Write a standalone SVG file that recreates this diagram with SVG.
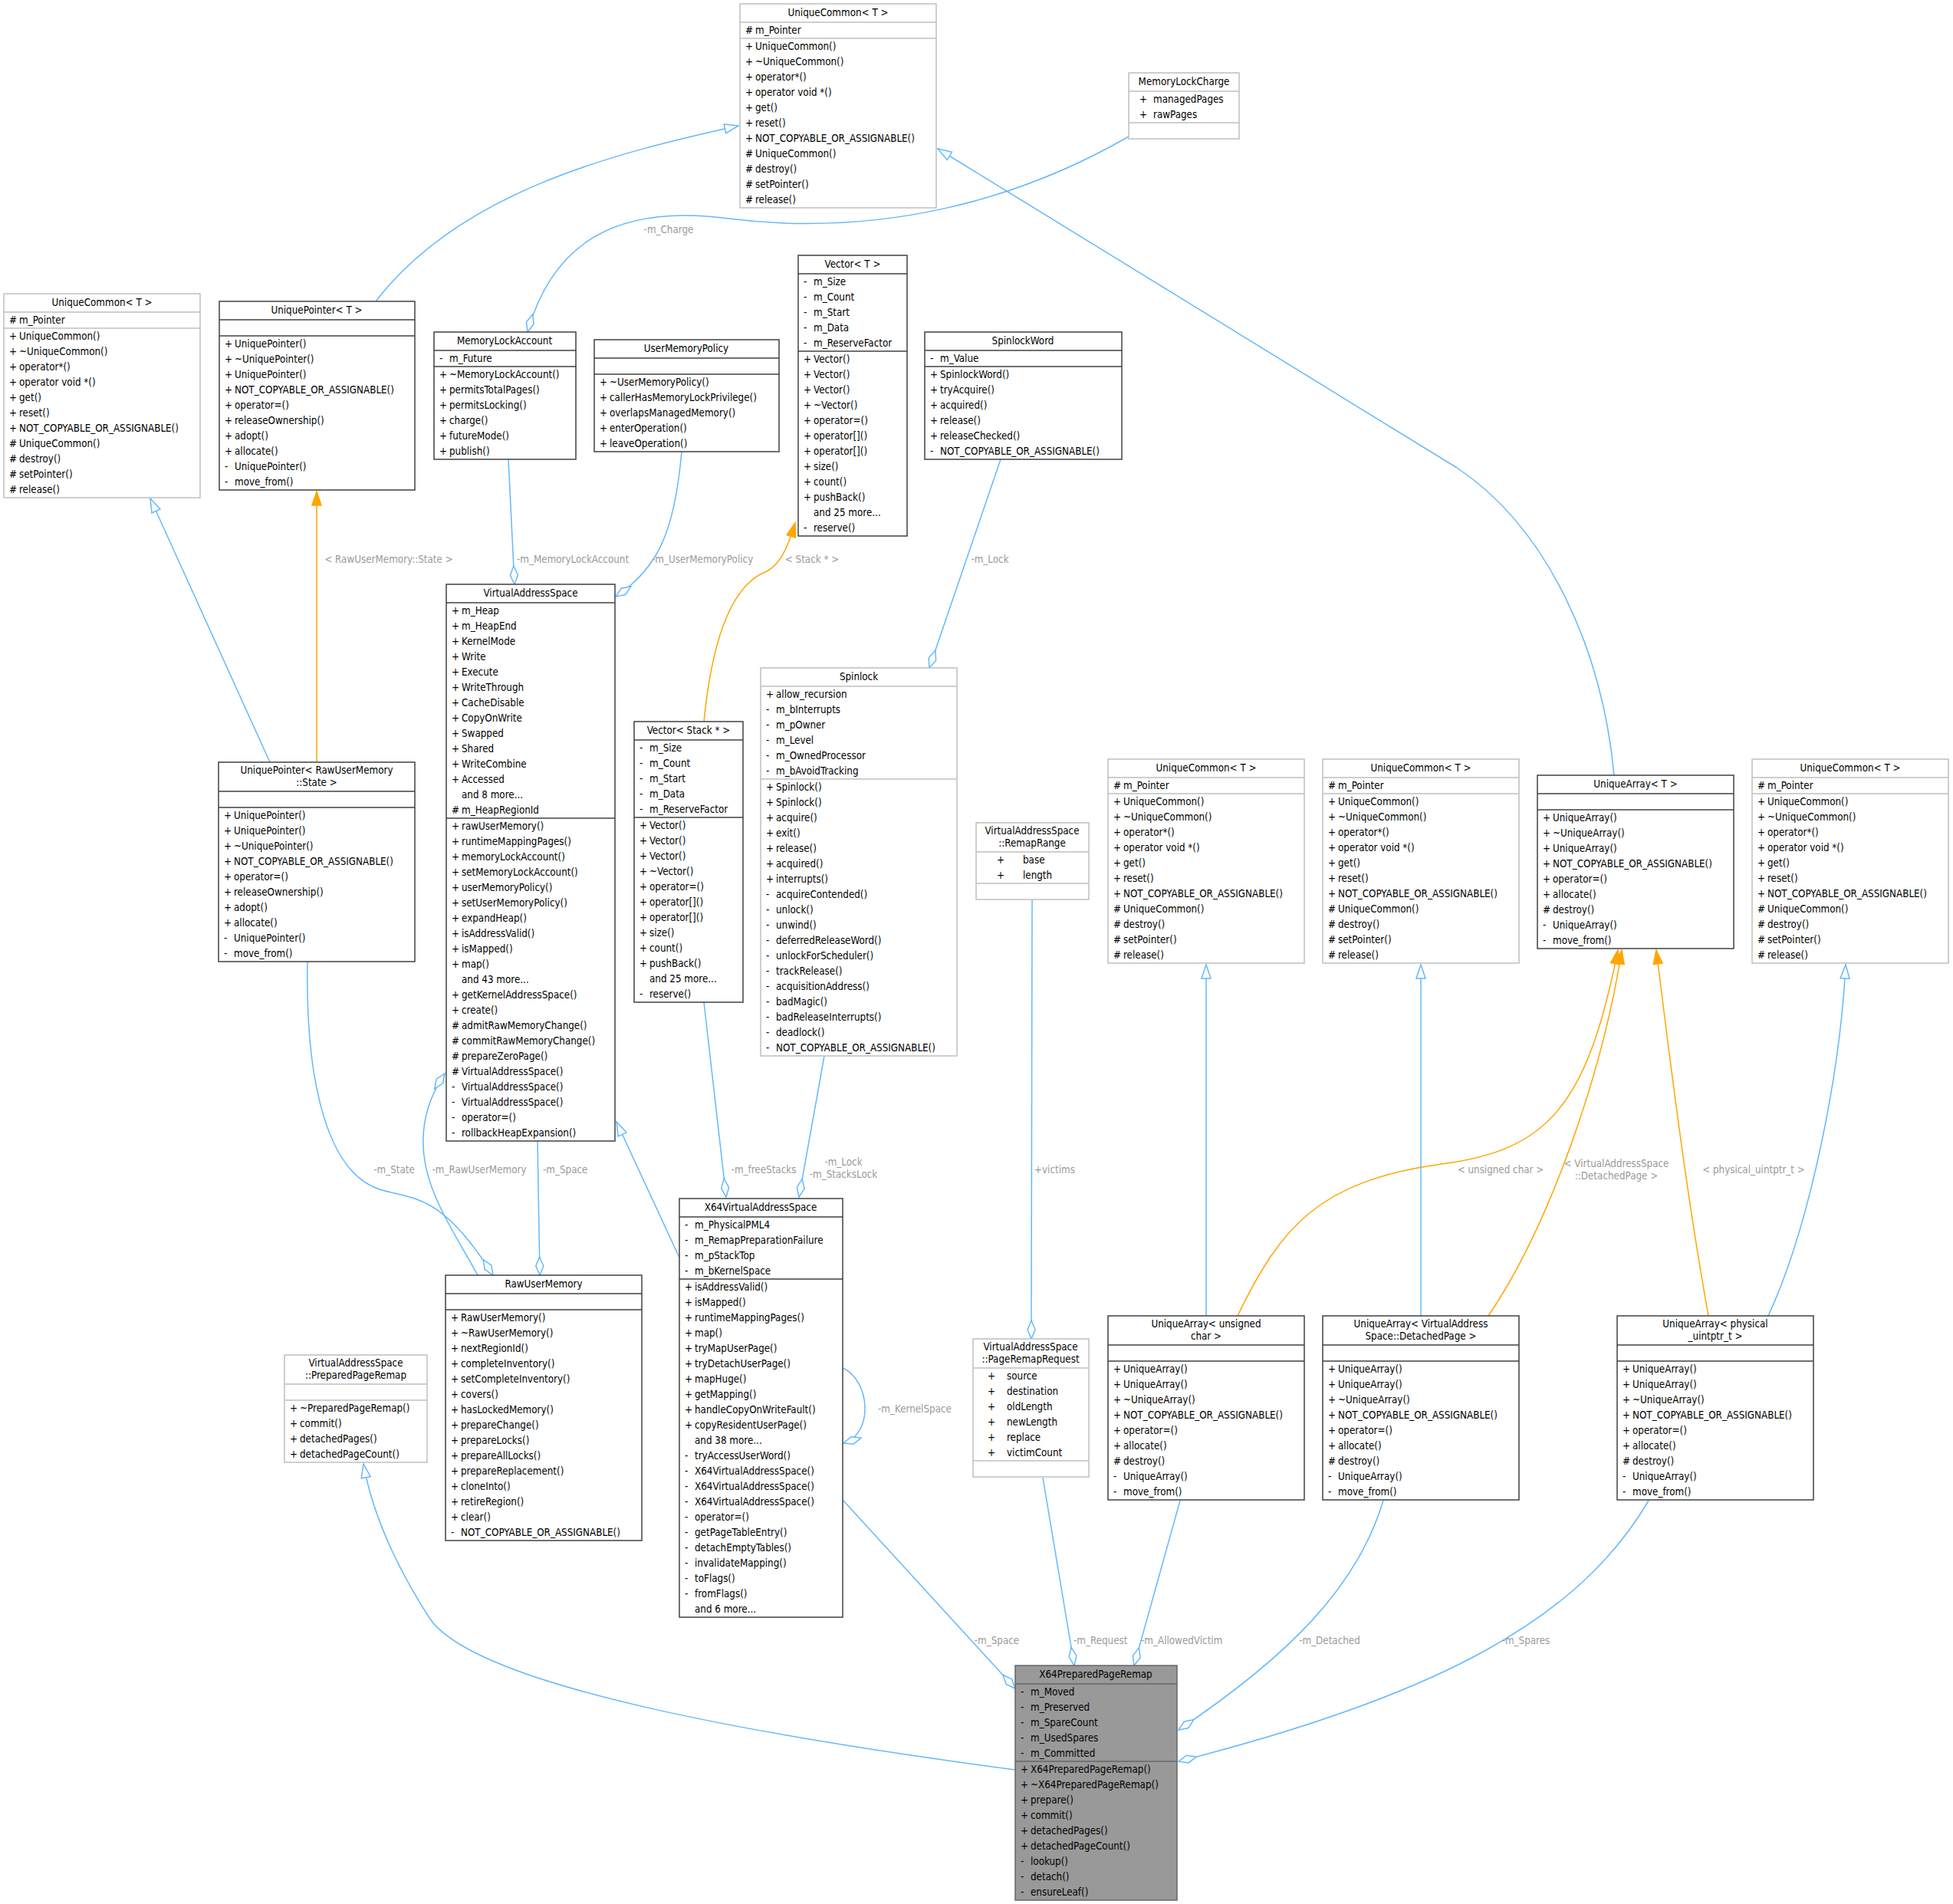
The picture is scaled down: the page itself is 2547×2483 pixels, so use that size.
<svg xmlns="http://www.w3.org/2000/svg" width="2547" height="2483" viewBox="0 0 2547 2483">
<style>
text{font-family:"DejaVu Sans Condensed","DejaVu Sans","Liberation Sans",sans-serif;font-size:13.3px;fill:#000}
.h{text-anchor:middle}
.lb{fill:#9a9a9a}
.m{text-anchor:middle}
.gy{fill:#fff;stroke:#bfbfbf;stroke-width:1.5}
.bk{fill:#fff;stroke:#404040;stroke-width:1.5}
.gs{stroke:#bfbfbf;stroke-width:1.5}
.bs{stroke:#404040;stroke-width:1.5}
.e{fill:none;stroke:#63b8ff;stroke-width:1.5}
.o{fill:none;stroke:#ffa500;stroke-width:1.5}
</style>
<defs>
<marker id="inh" markerUnits="userSpaceOnUse" markerWidth="22" markerHeight="16" refX="19" refY="8" orient="auto"><path d="M1,2 L19,8 L1,14 z" fill="#fff" stroke="#63b8ff" stroke-width="1.5"/></marker>
<marker id="tpl" markerUnits="userSpaceOnUse" markerWidth="22" markerHeight="16" refX="19" refY="8" orient="auto"><path d="M1,2 L19,8 L1,14 z" fill="#ffa500" stroke="#ffa500" stroke-width="1.5"/></marker>
<marker id="agg" markerUnits="userSpaceOnUse" markerWidth="28" markerHeight="14" refX="25" refY="7" orient="auto"><path d="M1,7 L13,2 L25,7 L13,12 z" fill="#fff" stroke="#63b8ff" stroke-width="1.5"/></marker>
</defs>

<g id="edges">
<path class="e" d="M490,393 C600,250 800,200 963,164" marker-end="url(#inh)"/>
<path class="e" d="M1472,178 C1330,260 1150,310 950,285 C800,265 720,320 688,433" marker-end="url(#agg)"/>
<text class="lb m" x="872" y="304">-m_Charge</text>
<path class="e" d="M2105,1011 C2090,850 2020,690 1900,610 L1223,194" marker-end="url(#inh)"/>
<path class="e" d="M352,994 L196,650" marker-end="url(#inh)"/>
<path class="o" d="M413,994 L413,641" marker-end="url(#tpl)"/>
<text class="lb m" x="507" y="734">&lt; RawUserMemory::State &gt;</text>
<path class="e" d="M663,599 L671,762" marker-end="url(#agg)"/>
<text class="lb" x="674" y="734">-m_MemoryLockAccount</text>
<path class="e" d="M889,589 C880,690 860,740 803,778" marker-end="url(#agg)"/>
<text class="lb" x="850" y="734">-m_UserMemoryPolicy</text>
<path class="o" d="M918,941 C930,820 960,760 1000,745 C1020,735 1030,705 1037,682" marker-end="url(#tpl)"/>
<text class="lb m" x="1059" y="734">&lt; Stack * &gt;</text>
<path class="e" d="M1305,599 L1212,871" marker-end="url(#agg)"/>
<text class="lb m" x="1291" y="734">-m_Lock</text>
<path class="e" d="M1573,1716 L1573,1258" marker-end="url(#inh)"/>
<path class="e" d="M1853,1716 L1853,1258" marker-end="url(#inh)"/>
<path class="e" d="M2306,1716 C2360,1600 2400,1400 2407,1258" marker-end="url(#inh)"/>
<path class="o" d="M1614,1716 C1670,1600 1720,1540 1880,1518 C2020,1500 2070,1440 2110,1239" marker-end="url(#tpl)"/>
<text class="lb m" x="1957" y="1530">&lt; unsigned char &gt;</text>
<path class="o" d="M1941,1716 C2020,1600 2090,1400 2115,1239" marker-end="url(#tpl)"/>
<text class="lb m" x="2108" y="1522">&lt; VirtualAddressSpace</text>
<text class="lb m" x="2108" y="1538">::DetachedPage &gt;</text>
<path class="o" d="M2228,1716 C2200,1560 2180,1400 2160,1239" marker-end="url(#tpl)"/>
<text class="lb m" x="2287" y="1530">&lt; physical_uintptr_t &gt;</text>
<path class="e" d="M401,1254 C398,1420 430,1530 495,1551 C540,1565 575,1555 643,1663" marker-end="url(#agg)"/>
<text class="lb m" x="514" y="1530">-m_State</text>
<path class="e" d="M623,1663 C600,1620 565,1570 555,1520 C545,1470 560,1430 580,1400" marker-end="url(#agg)"/>
<text class="lb m" x="625" y="1530">-m_RawUserMemory</text>
<path class="e" d="M701,1488 L704,1663" marker-end="url(#agg)"/>
<text class="lb" x="708" y="1530">-m_Space</text>
<path class="e" d="M886,1640 L804,1463" marker-end="url(#inh)"/>
<path class="e" d="M918,1307 L947,1561" marker-end="url(#agg)"/>
<text class="lb m" x="996" y="1530">-m_freeStacks</text>
<path class="e" d="M1075,1377 L1042,1561" marker-end="url(#agg)"/>
<text class="lb m" x="1100" y="1520">-m_Lock</text>
<text class="lb m" x="1100" y="1536">-m_StacksLock</text>
<path class="e" d="M1099,1784 C1135,1800 1140,1870 1100,1882" marker-end="url(#agg)"/>
<text class="lb" x="1145" y="1842">-m_KernelSpace</text>
<path class="e" d="M1346,1174 L1345,1746" marker-end="url(#agg)"/>
<text class="lb" x="1349" y="1530">+victims</text>
<path class="e" d="M1099,1956 L1324,2202" marker-end="url(#agg)"/>
<text class="lb m" x="1300" y="2144">-m_Space</text>
<path class="e" d="M1360,1927 L1401,2172" marker-end="url(#agg)"/>
<text class="lb" x="1400" y="2144">-m_Request</text>
<path class="e" d="M1539,1957 L1479,2172" marker-end="url(#agg)"/>
<text class="lb" x="1488" y="2144">-m_AllowedVictim</text>
<path class="e" d="M1804,1957 C1770,2070 1680,2160 1537,2256" marker-end="url(#agg)"/>
<text class="lb m" x="1734" y="2144">-m_Detached</text>
<path class="e" d="M2150,1957 C2060,2110 1880,2210 1537,2297" marker-end="url(#agg)"/>
<text class="lb m" x="1990" y="2144">-m_Spares</text>
<path class="e" d="M1324,2308 C1000,2265 620,2200 560,2110 C515,2040 485,1970 474,1909" marker-end="url(#inh)"/>
</g>

<g id="UniqueCommon_top">
<rect class="gy" x="965" y="5" width="256" height="266"/>
<line class="gs" x1="965" y1="29" x2="1221" y2="29"/><line class="gs" x1="965" y1="50" x2="1221" y2="50"/>
<text class="h" x="1093" y="21">UniqueCommon&lt; T &gt;</text>
<text x="972" y="44">#</text><text x="985" y="44">m_Pointer</text>
<text><tspan x="972" y="65">+</tspan><tspan x="972" dy="20">+</tspan><tspan x="972" dy="20">+</tspan><tspan x="972" dy="20">+</tspan><tspan x="972" dy="20">+</tspan><tspan x="972" dy="20">+</tspan><tspan x="972" dy="20">+</tspan><tspan x="972" dy="20">#</tspan><tspan x="972" dy="20">#</tspan><tspan x="972" dy="20">#</tspan><tspan x="972" dy="20">#</tspan></text>
<text><tspan x="985" y="65">UniqueCommon()</tspan><tspan x="985" dy="20">~UniqueCommon()</tspan><tspan x="985" dy="20">operator*()</tspan><tspan x="985" dy="20">operator void *()</tspan><tspan x="985" dy="20">get()</tspan><tspan x="985" dy="20">reset()</tspan><tspan x="985" dy="20">NOT_COPYABLE_OR_ASSIGNABLE()</tspan><tspan x="985" dy="20">UniqueCommon()</tspan><tspan x="985" dy="20">destroy()</tspan><tspan x="985" dy="20">setPointer()</tspan><tspan x="985" dy="20">release()</tspan></text>
</g>

<g id="MemoryLockCharge">
<rect class="gy" x="1472" y="95" width="144" height="86"/>
<line class="gs" x1="1472" y1="119" x2="1616" y2="119"/><line class="gs" x1="1472" y1="160" x2="1616" y2="160"/>
<text class="h" x="1544" y="111">MemoryLockCharge</text>
<text><tspan x="1486" y="134">+</tspan><tspan x="1486" dy="20">+</tspan></text>
<text><tspan x="1504" y="134">managedPages</tspan><tspan x="1504" dy="20">rawPages</tspan></text>
</g>

<g id="UniqueCommon_left">
<rect class="gy" x="5" y="383" width="256" height="266"/>
<line class="gs" x1="5" y1="407" x2="261" y2="407"/><line class="gs" x1="5" y1="428" x2="261" y2="428"/>
<text class="h" x="133" y="399">UniqueCommon&lt; T &gt;</text>
<text x="12" y="422">#</text><text x="25" y="422">m_Pointer</text>
<text><tspan x="12" y="443">+</tspan><tspan x="12" dy="20">+</tspan><tspan x="12" dy="20">+</tspan><tspan x="12" dy="20">+</tspan><tspan x="12" dy="20">+</tspan><tspan x="12" dy="20">+</tspan><tspan x="12" dy="20">+</tspan><tspan x="12" dy="20">#</tspan><tspan x="12" dy="20">#</tspan><tspan x="12" dy="20">#</tspan><tspan x="12" dy="20">#</tspan></text>
<text><tspan x="25" y="443">UniqueCommon()</tspan><tspan x="25" dy="20">~UniqueCommon()</tspan><tspan x="25" dy="20">operator*()</tspan><tspan x="25" dy="20">operator void *()</tspan><tspan x="25" dy="20">get()</tspan><tspan x="25" dy="20">reset()</tspan><tspan x="25" dy="20">NOT_COPYABLE_OR_ASSIGNABLE()</tspan><tspan x="25" dy="20">UniqueCommon()</tspan><tspan x="25" dy="20">destroy()</tspan><tspan x="25" dy="20">setPointer()</tspan><tspan x="25" dy="20">release()</tspan></text>
</g>

<g id="UniquePointer_T">
<rect class="bk" x="286" y="393" width="255" height="246"/>
<line class="bs" x1="286" y1="417" x2="541" y2="417"/><line class="bs" x1="286" y1="438" x2="541" y2="438"/>
<text class="h" x="413" y="409">UniquePointer&lt; T &gt;</text>
<text><tspan x="293" y="453">+</tspan><tspan x="293" dy="20">+</tspan><tspan x="293" dy="20">+</tspan><tspan x="293" dy="20">+</tspan><tspan x="293" dy="20">+</tspan><tspan x="293" dy="20">+</tspan><tspan x="293" dy="20">+</tspan><tspan x="293" dy="20">+</tspan><tspan x="293" dy="20">-</tspan><tspan x="293" dy="20">-</tspan></text>
<text><tspan x="306" y="453">UniquePointer()</tspan><tspan x="306" dy="20">~UniquePointer()</tspan><tspan x="306" dy="20">UniquePointer()</tspan><tspan x="306" dy="20">NOT_COPYABLE_OR_ASSIGNABLE()</tspan><tspan x="306" dy="20">operator=()</tspan><tspan x="306" dy="20">releaseOwnership()</tspan><tspan x="306" dy="20">adopt()</tspan><tspan x="306" dy="20">allocate()</tspan><tspan x="306" dy="20">UniquePointer()</tspan><tspan x="306" dy="20">move_from()</tspan></text>
</g>

<g id="MemoryLockAccount">
<rect class="bk" x="566" y="433" width="185" height="166"/>
<line class="bs" x1="566" y1="457" x2="751" y2="457"/><line class="bs" x1="566" y1="478" x2="751" y2="478"/>
<text class="h" x="658" y="449">MemoryLockAccount</text>
<text x="573" y="472">-</text><text x="586" y="472">m_Future</text>
<text><tspan x="573" y="493">+</tspan><tspan x="573" dy="20">+</tspan><tspan x="573" dy="20">+</tspan><tspan x="573" dy="20">+</tspan><tspan x="573" dy="20">+</tspan><tspan x="573" dy="20">+</tspan></text>
<text><tspan x="586" y="493">~MemoryLockAccount()</tspan><tspan x="586" dy="20">permitsTotalPages()</tspan><tspan x="586" dy="20">permitsLocking()</tspan><tspan x="586" dy="20">charge()</tspan><tspan x="586" dy="20">futureMode()</tspan><tspan x="586" dy="20">publish()</tspan></text>
</g>

<g id="UserMemoryPolicy">
<rect class="bk" x="775" y="443" width="241" height="146"/>
<line class="bs" x1="775" y1="467" x2="1016" y2="467"/><line class="bs" x1="775" y1="488" x2="1016" y2="488"/>
<text class="h" x="895" y="459">UserMemoryPolicy</text>
<text><tspan x="782" y="503">+</tspan><tspan x="782" dy="20">+</tspan><tspan x="782" dy="20">+</tspan><tspan x="782" dy="20">+</tspan><tspan x="782" dy="20">+</tspan></text>
<text><tspan x="795" y="503">~UserMemoryPolicy()</tspan><tspan x="795" dy="20">callerHasMemoryLockPrivilege()</tspan><tspan x="795" dy="20">overlapsManagedMemory()</tspan><tspan x="795" dy="20">enterOperation()</tspan><tspan x="795" dy="20">leaveOperation()</tspan></text>
</g>

<g id="Vector_T">
<rect class="bk" x="1041" y="333" width="142" height="366"/>
<line class="bs" x1="1041" y1="357" x2="1183" y2="357"/><line class="bs" x1="1041" y1="458" x2="1183" y2="458"/>
<text class="h" x="1112" y="349">Vector&lt; T &gt;</text>
<text><tspan x="1048" y="372">-</tspan><tspan x="1048" dy="20">-</tspan><tspan x="1048" dy="20">-</tspan><tspan x="1048" dy="20">-</tspan><tspan x="1048" dy="20">-</tspan></text>
<text><tspan x="1061" y="372">m_Size</tspan><tspan x="1061" dy="20">m_Count</tspan><tspan x="1061" dy="20">m_Start</tspan><tspan x="1061" dy="20">m_Data</tspan><tspan x="1061" dy="20">m_ReserveFactor</tspan></text>
<text><tspan x="1048" y="473">+</tspan><tspan x="1048" dy="20">+</tspan><tspan x="1048" dy="20">+</tspan><tspan x="1048" dy="20">+</tspan><tspan x="1048" dy="20">+</tspan><tspan x="1048" dy="20">+</tspan><tspan x="1048" dy="20">+</tspan><tspan x="1048" dy="20">+</tspan><tspan x="1048" dy="20">+</tspan><tspan x="1048" dy="20">+</tspan><tspan x="1048" dy="40">-</tspan></text>
<text><tspan x="1061" y="473">Vector()</tspan><tspan x="1061" dy="20">Vector()</tspan><tspan x="1061" dy="20">Vector()</tspan><tspan x="1061" dy="20">~Vector()</tspan><tspan x="1061" dy="20">operator=()</tspan><tspan x="1061" dy="20">operator[]()</tspan><tspan x="1061" dy="20">operator[]()</tspan><tspan x="1061" dy="20">size()</tspan><tspan x="1061" dy="20">count()</tspan><tspan x="1061" dy="20">pushBack()</tspan><tspan x="1061" dy="20">and 25 more...</tspan><tspan x="1061" dy="20">reserve()</tspan></text>
</g>

<g id="SpinlockWord">
<rect class="bk" x="1206" y="433" width="257" height="166"/>
<line class="bs" x1="1206" y1="457" x2="1463" y2="457"/><line class="bs" x1="1206" y1="478" x2="1463" y2="478"/>
<text class="h" x="1334" y="449">SpinlockWord</text>
<text x="1213" y="472">-</text><text x="1226" y="472">m_Value</text>
<text><tspan x="1213" y="493">+</tspan><tspan x="1213" dy="20">+</tspan><tspan x="1213" dy="20">+</tspan><tspan x="1213" dy="20">+</tspan><tspan x="1213" dy="20">+</tspan><tspan x="1213" dy="20">-</tspan></text>
<text><tspan x="1226" y="493">SpinlockWord()</tspan><tspan x="1226" dy="20">tryAcquire()</tspan><tspan x="1226" dy="20">acquired()</tspan><tspan x="1226" dy="20">release()</tspan><tspan x="1226" dy="20">releaseChecked()</tspan><tspan x="1226" dy="20">NOT_COPYABLE_OR_ASSIGNABLE()</tspan></text>
</g>

<g id="UniquePointer_RawUserMemory_State">
<rect class="bk" x="285" y="994" width="256" height="260"/>
<line class="bs" x1="285" y1="1032" x2="541" y2="1032"/><line class="bs" x1="285" y1="1053" x2="541" y2="1053"/>
<text class="h" x="413" y="1009">UniquePointer&lt; RawUserMemory</text>
<text class="h" x="413" y="1025">::State &gt;</text>
<text><tspan x="292" y="1068">+</tspan><tspan x="292" dy="20">+</tspan><tspan x="292" dy="20">+</tspan><tspan x="292" dy="20">+</tspan><tspan x="292" dy="20">+</tspan><tspan x="292" dy="20">+</tspan><tspan x="292" dy="20">+</tspan><tspan x="292" dy="20">+</tspan><tspan x="292" dy="20">-</tspan><tspan x="292" dy="20">-</tspan></text>
<text><tspan x="305" y="1068">UniquePointer()</tspan><tspan x="305" dy="20">UniquePointer()</tspan><tspan x="305" dy="20">~UniquePointer()</tspan><tspan x="305" dy="20">NOT_COPYABLE_OR_ASSIGNABLE()</tspan><tspan x="305" dy="20">operator=()</tspan><tspan x="305" dy="20">releaseOwnership()</tspan><tspan x="305" dy="20">adopt()</tspan><tspan x="305" dy="20">allocate()</tspan><tspan x="305" dy="20">UniquePointer()</tspan><tspan x="305" dy="20">move_from()</tspan></text>
</g>

<g id="VirtualAddressSpace">
<rect class="bk" x="582" y="762" width="220" height="726"/>
<line class="bs" x1="582" y1="786" x2="802" y2="786"/><line class="bs" x1="582" y1="1067" x2="802" y2="1067"/>
<text class="h" x="692" y="778">VirtualAddressSpace</text>
<text><tspan x="589" y="801">+</tspan><tspan x="589" dy="20">+</tspan><tspan x="589" dy="20">+</tspan><tspan x="589" dy="20">+</tspan><tspan x="589" dy="20">+</tspan><tspan x="589" dy="20">+</tspan><tspan x="589" dy="20">+</tspan><tspan x="589" dy="20">+</tspan><tspan x="589" dy="20">+</tspan><tspan x="589" dy="20">+</tspan><tspan x="589" dy="20">+</tspan><tspan x="589" dy="20">+</tspan><tspan x="589" dy="40">#</tspan></text>
<text><tspan x="602" y="801">m_Heap</tspan><tspan x="602" dy="20">m_HeapEnd</tspan><tspan x="602" dy="20">KernelMode</tspan><tspan x="602" dy="20">Write</tspan><tspan x="602" dy="20">Execute</tspan><tspan x="602" dy="20">WriteThrough</tspan><tspan x="602" dy="20">CacheDisable</tspan><tspan x="602" dy="20">CopyOnWrite</tspan><tspan x="602" dy="20">Swapped</tspan><tspan x="602" dy="20">Shared</tspan><tspan x="602" dy="20">WriteCombine</tspan><tspan x="602" dy="20">Accessed</tspan><tspan x="602" dy="20">and 8 more...</tspan><tspan x="602" dy="20">m_HeapRegionId</tspan></text>
<text><tspan x="589" y="1082">+</tspan><tspan x="589" dy="20">+</tspan><tspan x="589" dy="20">+</tspan><tspan x="589" dy="20">+</tspan><tspan x="589" dy="20">+</tspan><tspan x="589" dy="20">+</tspan><tspan x="589" dy="20">+</tspan><tspan x="589" dy="20">+</tspan><tspan x="589" dy="20">+</tspan><tspan x="589" dy="20">+</tspan><tspan x="589" dy="40">+</tspan><tspan x="589" dy="20">+</tspan><tspan x="589" dy="20">#</tspan><tspan x="589" dy="20">#</tspan><tspan x="589" dy="20">#</tspan><tspan x="589" dy="20">#</tspan><tspan x="589" dy="20">-</tspan><tspan x="589" dy="20">-</tspan><tspan x="589" dy="20">-</tspan><tspan x="589" dy="20">-</tspan></text>
<text><tspan x="602" y="1082">rawUserMemory()</tspan><tspan x="602" dy="20">runtimeMappingPages()</tspan><tspan x="602" dy="20">memoryLockAccount()</tspan><tspan x="602" dy="20">setMemoryLockAccount()</tspan><tspan x="602" dy="20">userMemoryPolicy()</tspan><tspan x="602" dy="20">setUserMemoryPolicy()</tspan><tspan x="602" dy="20">expandHeap()</tspan><tspan x="602" dy="20">isAddressValid()</tspan><tspan x="602" dy="20">isMapped()</tspan><tspan x="602" dy="20">map()</tspan><tspan x="602" dy="20">and 43 more...</tspan><tspan x="602" dy="20">getKernelAddressSpace()</tspan><tspan x="602" dy="20">create()</tspan><tspan x="602" dy="20">admitRawMemoryChange()</tspan><tspan x="602" dy="20">commitRawMemoryChange()</tspan><tspan x="602" dy="20">prepareZeroPage()</tspan><tspan x="602" dy="20">VirtualAddressSpace()</tspan><tspan x="602" dy="20">VirtualAddressSpace()</tspan><tspan x="602" dy="20">VirtualAddressSpace()</tspan><tspan x="602" dy="20">operator=()</tspan><tspan x="602" dy="20">rollbackHeapExpansion()</tspan></text>
</g>

<g id="Vector_Stack">
<rect class="bk" x="827" y="941" width="142" height="366"/>
<line class="bs" x1="827" y1="965" x2="969" y2="965"/><line class="bs" x1="827" y1="1066" x2="969" y2="1066"/>
<text class="h" x="898" y="957">Vector&lt; Stack * &gt;</text>
<text><tspan x="834" y="980">-</tspan><tspan x="834" dy="20">-</tspan><tspan x="834" dy="20">-</tspan><tspan x="834" dy="20">-</tspan><tspan x="834" dy="20">-</tspan></text>
<text><tspan x="847" y="980">m_Size</tspan><tspan x="847" dy="20">m_Count</tspan><tspan x="847" dy="20">m_Start</tspan><tspan x="847" dy="20">m_Data</tspan><tspan x="847" dy="20">m_ReserveFactor</tspan></text>
<text><tspan x="834" y="1081">+</tspan><tspan x="834" dy="20">+</tspan><tspan x="834" dy="20">+</tspan><tspan x="834" dy="20">+</tspan><tspan x="834" dy="20">+</tspan><tspan x="834" dy="20">+</tspan><tspan x="834" dy="20">+</tspan><tspan x="834" dy="20">+</tspan><tspan x="834" dy="20">+</tspan><tspan x="834" dy="20">+</tspan><tspan x="834" dy="40">-</tspan></text>
<text><tspan x="847" y="1081">Vector()</tspan><tspan x="847" dy="20">Vector()</tspan><tspan x="847" dy="20">Vector()</tspan><tspan x="847" dy="20">~Vector()</tspan><tspan x="847" dy="20">operator=()</tspan><tspan x="847" dy="20">operator[]()</tspan><tspan x="847" dy="20">operator[]()</tspan><tspan x="847" dy="20">size()</tspan><tspan x="847" dy="20">count()</tspan><tspan x="847" dy="20">pushBack()</tspan><tspan x="847" dy="20">and 25 more...</tspan><tspan x="847" dy="20">reserve()</tspan></text>
</g>

<g id="Spinlock">
<rect class="gy" x="992" y="871" width="256" height="506"/>
<line class="gs" x1="992" y1="895" x2="1248" y2="895"/><line class="gs" x1="992" y1="1016" x2="1248" y2="1016"/>
<text class="h" x="1120" y="887">Spinlock</text>
<text><tspan x="999" y="910">+</tspan><tspan x="999" dy="20">-</tspan><tspan x="999" dy="20">-</tspan><tspan x="999" dy="20">-</tspan><tspan x="999" dy="20">-</tspan><tspan x="999" dy="20">-</tspan></text>
<text><tspan x="1012" y="910">allow_recursion</tspan><tspan x="1012" dy="20">m_bInterrupts</tspan><tspan x="1012" dy="20">m_pOwner</tspan><tspan x="1012" dy="20">m_Level</tspan><tspan x="1012" dy="20">m_OwnedProcessor</tspan><tspan x="1012" dy="20">m_bAvoidTracking</tspan></text>
<text><tspan x="999" y="1031">+</tspan><tspan x="999" dy="20">+</tspan><tspan x="999" dy="20">+</tspan><tspan x="999" dy="20">+</tspan><tspan x="999" dy="20">+</tspan><tspan x="999" dy="20">+</tspan><tspan x="999" dy="20">+</tspan><tspan x="999" dy="20">-</tspan><tspan x="999" dy="20">-</tspan><tspan x="999" dy="20">-</tspan><tspan x="999" dy="20">-</tspan><tspan x="999" dy="20">-</tspan><tspan x="999" dy="20">-</tspan><tspan x="999" dy="20">-</tspan><tspan x="999" dy="20">-</tspan><tspan x="999" dy="20">-</tspan><tspan x="999" dy="20">-</tspan><tspan x="999" dy="20">-</tspan></text>
<text><tspan x="1012" y="1031">Spinlock()</tspan><tspan x="1012" dy="20">Spinlock()</tspan><tspan x="1012" dy="20">acquire()</tspan><tspan x="1012" dy="20">exit()</tspan><tspan x="1012" dy="20">release()</tspan><tspan x="1012" dy="20">acquired()</tspan><tspan x="1012" dy="20">interrupts()</tspan><tspan x="1012" dy="20">acquireContended()</tspan><tspan x="1012" dy="20">unlock()</tspan><tspan x="1012" dy="20">unwind()</tspan><tspan x="1012" dy="20">deferredReleaseWord()</tspan><tspan x="1012" dy="20">unlockForScheduler()</tspan><tspan x="1012" dy="20">trackRelease()</tspan><tspan x="1012" dy="20">acquisitionAddress()</tspan><tspan x="1012" dy="20">badMagic()</tspan><tspan x="1012" dy="20">badReleaseInterrupts()</tspan><tspan x="1012" dy="20">deadlock()</tspan><tspan x="1012" dy="20">NOT_COPYABLE_OR_ASSIGNABLE()</tspan></text>
</g>

<g id="RemapRange">
<rect class="gy" x="1273" y="1073" width="147" height="100"/>
<line class="gs" x1="1273" y1="1111" x2="1420" y2="1111"/><line class="gs" x1="1273" y1="1152" x2="1420" y2="1152"/>
<text class="h" x="1346" y="1088">VirtualAddressSpace</text>
<text class="h" x="1346" y="1104">::RemapRange</text>
<text><tspan x="1300" y="1126">+</tspan><tspan x="1300" dy="20">+</tspan></text>
<text><tspan x="1334" y="1126">base</tspan><tspan x="1334" dy="20">length</tspan></text>
</g>

<g id="UniqueCommon_a">
<rect class="gy" x="1445" y="990" width="256" height="266"/>
<line class="gs" x1="1445" y1="1014" x2="1701" y2="1014"/><line class="gs" x1="1445" y1="1035" x2="1701" y2="1035"/>
<text class="h" x="1573" y="1006">UniqueCommon&lt; T &gt;</text>
<text x="1452" y="1029">#</text><text x="1465" y="1029">m_Pointer</text>
<text><tspan x="1452" y="1050">+</tspan><tspan x="1452" dy="20">+</tspan><tspan x="1452" dy="20">+</tspan><tspan x="1452" dy="20">+</tspan><tspan x="1452" dy="20">+</tspan><tspan x="1452" dy="20">+</tspan><tspan x="1452" dy="20">+</tspan><tspan x="1452" dy="20">#</tspan><tspan x="1452" dy="20">#</tspan><tspan x="1452" dy="20">#</tspan><tspan x="1452" dy="20">#</tspan></text>
<text><tspan x="1465" y="1050">UniqueCommon()</tspan><tspan x="1465" dy="20">~UniqueCommon()</tspan><tspan x="1465" dy="20">operator*()</tspan><tspan x="1465" dy="20">operator void *()</tspan><tspan x="1465" dy="20">get()</tspan><tspan x="1465" dy="20">reset()</tspan><tspan x="1465" dy="20">NOT_COPYABLE_OR_ASSIGNABLE()</tspan><tspan x="1465" dy="20">UniqueCommon()</tspan><tspan x="1465" dy="20">destroy()</tspan><tspan x="1465" dy="20">setPointer()</tspan><tspan x="1465" dy="20">release()</tspan></text>
</g>

<g id="UniqueCommon_b">
<rect class="gy" x="1725" y="990" width="256" height="266"/>
<line class="gs" x1="1725" y1="1014" x2="1981" y2="1014"/><line class="gs" x1="1725" y1="1035" x2="1981" y2="1035"/>
<text class="h" x="1853" y="1006">UniqueCommon&lt; T &gt;</text>
<text x="1732" y="1029">#</text><text x="1745" y="1029">m_Pointer</text>
<text><tspan x="1732" y="1050">+</tspan><tspan x="1732" dy="20">+</tspan><tspan x="1732" dy="20">+</tspan><tspan x="1732" dy="20">+</tspan><tspan x="1732" dy="20">+</tspan><tspan x="1732" dy="20">+</tspan><tspan x="1732" dy="20">+</tspan><tspan x="1732" dy="20">#</tspan><tspan x="1732" dy="20">#</tspan><tspan x="1732" dy="20">#</tspan><tspan x="1732" dy="20">#</tspan></text>
<text><tspan x="1745" y="1050">UniqueCommon()</tspan><tspan x="1745" dy="20">~UniqueCommon()</tspan><tspan x="1745" dy="20">operator*()</tspan><tspan x="1745" dy="20">operator void *()</tspan><tspan x="1745" dy="20">get()</tspan><tspan x="1745" dy="20">reset()</tspan><tspan x="1745" dy="20">NOT_COPYABLE_OR_ASSIGNABLE()</tspan><tspan x="1745" dy="20">UniqueCommon()</tspan><tspan x="1745" dy="20">destroy()</tspan><tspan x="1745" dy="20">setPointer()</tspan><tspan x="1745" dy="20">release()</tspan></text>
</g>

<g id="UniqueArray_T">
<rect class="bk" x="2005" y="1011" width="256" height="226"/>
<line class="bs" x1="2005" y1="1035" x2="2261" y2="1035"/><line class="bs" x1="2005" y1="1056" x2="2261" y2="1056"/>
<text class="h" x="2133" y="1027">UniqueArray&lt; T &gt;</text>
<text><tspan x="2012" y="1071">+</tspan><tspan x="2012" dy="20">+</tspan><tspan x="2012" dy="20">+</tspan><tspan x="2012" dy="20">+</tspan><tspan x="2012" dy="20">+</tspan><tspan x="2012" dy="20">+</tspan><tspan x="2012" dy="20">#</tspan><tspan x="2012" dy="20">-</tspan><tspan x="2012" dy="20">-</tspan></text>
<text><tspan x="2025" y="1071">UniqueArray()</tspan><tspan x="2025" dy="20">~UniqueArray()</tspan><tspan x="2025" dy="20">UniqueArray()</tspan><tspan x="2025" dy="20">NOT_COPYABLE_OR_ASSIGNABLE()</tspan><tspan x="2025" dy="20">operator=()</tspan><tspan x="2025" dy="20">allocate()</tspan><tspan x="2025" dy="20">destroy()</tspan><tspan x="2025" dy="20">UniqueArray()</tspan><tspan x="2025" dy="20">move_from()</tspan></text>
</g>

<g id="UniqueCommon_c">
<rect class="gy" x="2285" y="990" width="256" height="266"/>
<line class="gs" x1="2285" y1="1014" x2="2541" y2="1014"/><line class="gs" x1="2285" y1="1035" x2="2541" y2="1035"/>
<text class="h" x="2413" y="1006">UniqueCommon&lt; T &gt;</text>
<text x="2292" y="1029">#</text><text x="2305" y="1029">m_Pointer</text>
<text><tspan x="2292" y="1050">+</tspan><tspan x="2292" dy="20">+</tspan><tspan x="2292" dy="20">+</tspan><tspan x="2292" dy="20">+</tspan><tspan x="2292" dy="20">+</tspan><tspan x="2292" dy="20">+</tspan><tspan x="2292" dy="20">+</tspan><tspan x="2292" dy="20">#</tspan><tspan x="2292" dy="20">#</tspan><tspan x="2292" dy="20">#</tspan><tspan x="2292" dy="20">#</tspan></text>
<text><tspan x="2305" y="1050">UniqueCommon()</tspan><tspan x="2305" dy="20">~UniqueCommon()</tspan><tspan x="2305" dy="20">operator*()</tspan><tspan x="2305" dy="20">operator void *()</tspan><tspan x="2305" dy="20">get()</tspan><tspan x="2305" dy="20">reset()</tspan><tspan x="2305" dy="20">NOT_COPYABLE_OR_ASSIGNABLE()</tspan><tspan x="2305" dy="20">UniqueCommon()</tspan><tspan x="2305" dy="20">destroy()</tspan><tspan x="2305" dy="20">setPointer()</tspan><tspan x="2305" dy="20">release()</tspan></text>
</g>

<g id="RawUserMemory">
<rect class="bk" x="581" y="1663" width="256" height="346"/>
<line class="bs" x1="581" y1="1687" x2="837" y2="1687"/><line class="bs" x1="581" y1="1708" x2="837" y2="1708"/>
<text class="h" x="709" y="1679">RawUserMemory</text>
<text><tspan x="588" y="1723">+</tspan><tspan x="588" dy="20">+</tspan><tspan x="588" dy="20">+</tspan><tspan x="588" dy="20">+</tspan><tspan x="588" dy="20">+</tspan><tspan x="588" dy="20">+</tspan><tspan x="588" dy="20">+</tspan><tspan x="588" dy="20">+</tspan><tspan x="588" dy="20">+</tspan><tspan x="588" dy="20">+</tspan><tspan x="588" dy="20">+</tspan><tspan x="588" dy="20">+</tspan><tspan x="588" dy="20">+</tspan><tspan x="588" dy="20">+</tspan><tspan x="588" dy="20">-</tspan></text>
<text><tspan x="601" y="1723">RawUserMemory()</tspan><tspan x="601" dy="20">~RawUserMemory()</tspan><tspan x="601" dy="20">nextRegionId()</tspan><tspan x="601" dy="20">completeInventory()</tspan><tspan x="601" dy="20">setCompleteInventory()</tspan><tspan x="601" dy="20">covers()</tspan><tspan x="601" dy="20">hasLockedMemory()</tspan><tspan x="601" dy="20">prepareChange()</tspan><tspan x="601" dy="20">prepareLocks()</tspan><tspan x="601" dy="20">prepareAllLocks()</tspan><tspan x="601" dy="20">prepareReplacement()</tspan><tspan x="601" dy="20">cloneInto()</tspan><tspan x="601" dy="20">retireRegion()</tspan><tspan x="601" dy="20">clear()</tspan><tspan x="601" dy="20">NOT_COPYABLE_OR_ASSIGNABLE()</tspan></text>
</g>

<g id="X64VirtualAddressSpace">
<rect class="bk" x="886" y="1563" width="213" height="546"/>
<line class="bs" x1="886" y1="1587" x2="1099" y2="1587"/><line class="bs" x1="886" y1="1668" x2="1099" y2="1668"/>
<text class="h" x="992" y="1579">X64VirtualAddressSpace</text>
<text><tspan x="893" y="1602">-</tspan><tspan x="893" dy="20">-</tspan><tspan x="893" dy="20">-</tspan><tspan x="893" dy="20">-</tspan></text>
<text><tspan x="906" y="1602">m_PhysicalPML4</tspan><tspan x="906" dy="20">m_RemapPreparationFailure</tspan><tspan x="906" dy="20">m_pStackTop</tspan><tspan x="906" dy="20">m_bKernelSpace</tspan></text>
<text><tspan x="893" y="1683">+</tspan><tspan x="893" dy="20">+</tspan><tspan x="893" dy="20">+</tspan><tspan x="893" dy="20">+</tspan><tspan x="893" dy="20">+</tspan><tspan x="893" dy="20">+</tspan><tspan x="893" dy="20">+</tspan><tspan x="893" dy="20">+</tspan><tspan x="893" dy="20">+</tspan><tspan x="893" dy="20">+</tspan><tspan x="893" dy="40">-</tspan><tspan x="893" dy="20">-</tspan><tspan x="893" dy="20">-</tspan><tspan x="893" dy="20">-</tspan><tspan x="893" dy="20">-</tspan><tspan x="893" dy="20">-</tspan><tspan x="893" dy="20">-</tspan><tspan x="893" dy="20">-</tspan><tspan x="893" dy="20">-</tspan><tspan x="893" dy="20">-</tspan></text>
<text><tspan x="906" y="1683">isAddressValid()</tspan><tspan x="906" dy="20">isMapped()</tspan><tspan x="906" dy="20">runtimeMappingPages()</tspan><tspan x="906" dy="20">map()</tspan><tspan x="906" dy="20">tryMapUserPage()</tspan><tspan x="906" dy="20">tryDetachUserPage()</tspan><tspan x="906" dy="20">mapHuge()</tspan><tspan x="906" dy="20">getMapping()</tspan><tspan x="906" dy="20">handleCopyOnWriteFault()</tspan><tspan x="906" dy="20">copyResidentUserPage()</tspan><tspan x="906" dy="20">and 38 more...</tspan><tspan x="906" dy="20">tryAccessUserWord()</tspan><tspan x="906" dy="20">X64VirtualAddressSpace()</tspan><tspan x="906" dy="20">X64VirtualAddressSpace()</tspan><tspan x="906" dy="20">X64VirtualAddressSpace()</tspan><tspan x="906" dy="20">operator=()</tspan><tspan x="906" dy="20">getPageTableEntry()</tspan><tspan x="906" dy="20">detachEmptyTables()</tspan><tspan x="906" dy="20">invalidateMapping()</tspan><tspan x="906" dy="20">toFlags()</tspan><tspan x="906" dy="20">fromFlags()</tspan><tspan x="906" dy="20">and 6 more...</tspan></text>
</g>

<g id="PreparedPageRemap">
<rect class="gy" x="371" y="1767" width="186" height="140"/>
<line class="gs" x1="371" y1="1805" x2="557" y2="1805"/><line class="gs" x1="371" y1="1826" x2="557" y2="1826"/>
<text class="h" x="464" y="1782">VirtualAddressSpace</text>
<text class="h" x="464" y="1798">::PreparedPageRemap</text>
<text><tspan x="378" y="1841">+</tspan><tspan x="378" dy="20">+</tspan><tspan x="378" dy="20">+</tspan><tspan x="378" dy="20">+</tspan></text>
<text><tspan x="391" y="1841">~PreparedPageRemap()</tspan><tspan x="391" dy="20">commit()</tspan><tspan x="391" dy="20">detachedPages()</tspan><tspan x="391" dy="20">detachedPageCount()</tspan></text>
</g>

<g id="PageRemapRequest">
<rect class="gy" x="1269" y="1746" width="151" height="180"/>
<line class="gs" x1="1269" y1="1784" x2="1420" y2="1784"/><line class="gs" x1="1269" y1="1905" x2="1420" y2="1905"/>
<text class="h" x="1344" y="1761">VirtualAddressSpace</text>
<text class="h" x="1344" y="1777">::PageRemapRequest</text>
<text><tspan x="1288" y="1799">+</tspan><tspan x="1288" dy="20">+</tspan><tspan x="1288" dy="20">+</tspan><tspan x="1288" dy="20">+</tspan><tspan x="1288" dy="20">+</tspan><tspan x="1288" dy="20">+</tspan></text>
<text><tspan x="1313" y="1799">source</tspan><tspan x="1313" dy="20">destination</tspan><tspan x="1313" dy="20">oldLength</tspan><tspan x="1313" dy="20">newLength</tspan><tspan x="1313" dy="20">replace</tspan><tspan x="1313" dy="20">victimCount</tspan></text>
</g>

<g id="UniqueArray_uchar">
<rect class="bk" x="1445" y="1716" width="256" height="240"/>
<line class="bs" x1="1445" y1="1754" x2="1701" y2="1754"/><line class="bs" x1="1445" y1="1775" x2="1701" y2="1775"/>
<text class="h" x="1573" y="1731">UniqueArray&lt; unsigned</text>
<text class="h" x="1573" y="1747">char &gt;</text>
<text><tspan x="1452" y="1790">+</tspan><tspan x="1452" dy="20">+</tspan><tspan x="1452" dy="20">+</tspan><tspan x="1452" dy="20">+</tspan><tspan x="1452" dy="20">+</tspan><tspan x="1452" dy="20">+</tspan><tspan x="1452" dy="20">#</tspan><tspan x="1452" dy="20">-</tspan><tspan x="1452" dy="20">-</tspan></text>
<text><tspan x="1465" y="1790">UniqueArray()</tspan><tspan x="1465" dy="20">UniqueArray()</tspan><tspan x="1465" dy="20">~UniqueArray()</tspan><tspan x="1465" dy="20">NOT_COPYABLE_OR_ASSIGNABLE()</tspan><tspan x="1465" dy="20">operator=()</tspan><tspan x="1465" dy="20">allocate()</tspan><tspan x="1465" dy="20">destroy()</tspan><tspan x="1465" dy="20">UniqueArray()</tspan><tspan x="1465" dy="20">move_from()</tspan></text>
</g>

<g id="UniqueArray_DetachedPage">
<rect class="bk" x="1725" y="1716" width="256" height="240"/>
<line class="bs" x1="1725" y1="1754" x2="1981" y2="1754"/><line class="bs" x1="1725" y1="1775" x2="1981" y2="1775"/>
<text class="h" x="1853" y="1731">UniqueArray&lt; VirtualAddress</text>
<text class="h" x="1853" y="1747">Space::DetachedPage &gt;</text>
<text><tspan x="1732" y="1790">+</tspan><tspan x="1732" dy="20">+</tspan><tspan x="1732" dy="20">+</tspan><tspan x="1732" dy="20">+</tspan><tspan x="1732" dy="20">+</tspan><tspan x="1732" dy="20">+</tspan><tspan x="1732" dy="20">#</tspan><tspan x="1732" dy="20">-</tspan><tspan x="1732" dy="20">-</tspan></text>
<text><tspan x="1745" y="1790">UniqueArray()</tspan><tspan x="1745" dy="20">UniqueArray()</tspan><tspan x="1745" dy="20">~UniqueArray()</tspan><tspan x="1745" dy="20">NOT_COPYABLE_OR_ASSIGNABLE()</tspan><tspan x="1745" dy="20">operator=()</tspan><tspan x="1745" dy="20">allocate()</tspan><tspan x="1745" dy="20">destroy()</tspan><tspan x="1745" dy="20">UniqueArray()</tspan><tspan x="1745" dy="20">move_from()</tspan></text>
</g>

<g id="UniqueArray_physical">
<rect class="bk" x="2109" y="1716" width="256" height="240"/>
<line class="bs" x1="2109" y1="1754" x2="2365" y2="1754"/><line class="bs" x1="2109" y1="1775" x2="2365" y2="1775"/>
<text class="h" x="2237" y="1731">UniqueArray&lt; physical</text>
<text class="h" x="2237" y="1747">_uintptr_t &gt;</text>
<text><tspan x="2116" y="1790">+</tspan><tspan x="2116" dy="20">+</tspan><tspan x="2116" dy="20">+</tspan><tspan x="2116" dy="20">+</tspan><tspan x="2116" dy="20">+</tspan><tspan x="2116" dy="20">+</tspan><tspan x="2116" dy="20">#</tspan><tspan x="2116" dy="20">-</tspan><tspan x="2116" dy="20">-</tspan></text>
<text><tspan x="2129" y="1790">UniqueArray()</tspan><tspan x="2129" dy="20">UniqueArray()</tspan><tspan x="2129" dy="20">~UniqueArray()</tspan><tspan x="2129" dy="20">NOT_COPYABLE_OR_ASSIGNABLE()</tspan><tspan x="2129" dy="20">operator=()</tspan><tspan x="2129" dy="20">allocate()</tspan><tspan x="2129" dy="20">destroy()</tspan><tspan x="2129" dy="20">UniqueArray()</tspan><tspan x="2129" dy="20">move_from()</tspan></text>
</g>

<g id="X64PreparedPageRemap">
<rect x="1324" y="2172" width="211" height="306" fill="#999999" stroke="#666666" stroke-width="1.5"/>
<line x1="1324" y1="2196" x2="1535" y2="2196" stroke="#666666" stroke-width="1.5"/><line x1="1324" y1="2297" x2="1535" y2="2297" stroke="#666666" stroke-width="1.5"/>
<text class="h" x="1429" y="2188">X64PreparedPageRemap</text>
<text><tspan x="1331" y="2211">-</tspan><tspan x="1331" dy="20">-</tspan><tspan x="1331" dy="20">-</tspan><tspan x="1331" dy="20">-</tspan><tspan x="1331" dy="20">-</tspan></text>
<text><tspan x="1344" y="2211">m_Moved</tspan><tspan x="1344" dy="20">m_Preserved</tspan><tspan x="1344" dy="20">m_SpareCount</tspan><tspan x="1344" dy="20">m_UsedSpares</tspan><tspan x="1344" dy="20">m_Committed</tspan></text>
<text><tspan x="1331" y="2312">+</tspan><tspan x="1331" dy="20">+</tspan><tspan x="1331" dy="20">+</tspan><tspan x="1331" dy="20">+</tspan><tspan x="1331" dy="20">+</tspan><tspan x="1331" dy="20">+</tspan><tspan x="1331" dy="20">-</tspan><tspan x="1331" dy="20">-</tspan><tspan x="1331" dy="20">-</tspan></text>
<text><tspan x="1344" y="2312">X64PreparedPageRemap()</tspan><tspan x="1344" dy="20">~X64PreparedPageRemap()</tspan><tspan x="1344" dy="20">prepare()</tspan><tspan x="1344" dy="20">commit()</tspan><tspan x="1344" dy="20">detachedPages()</tspan><tspan x="1344" dy="20">detachedPageCount()</tspan><tspan x="1344" dy="20">lookup()</tspan><tspan x="1344" dy="20">detach()</tspan><tspan x="1344" dy="20">ensureLeaf()</tspan></text>
</g>
</svg>
